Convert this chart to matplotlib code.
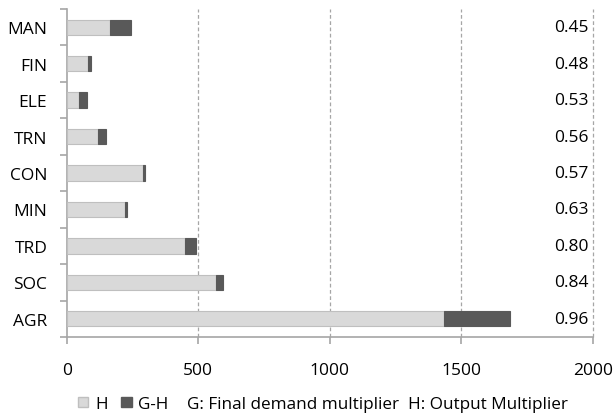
import matplotlib
matplotlib.use("Agg")
import matplotlib.pyplot as plt
from matplotlib.patches import Patch

plt.rcParams['font.family'] = ['Open Sans', 'DejaVu Sans']

categories = ["MAN", "FIN", "ELE", "TRN", "CON", "MIN", "TRD", "SOC", "AGR"]
h_values = [164, 80, 45, 119, 291, 221, 450, 567, 1433]
g_values = [243, 91, 76, 150, 298, 229, 491, 594, 1687]
ratios = ["0.45", "0.48", "0.53", "0.56", "0.57", "0.63", "0.80", "0.84", "0.96"]
xticks = [0, 500, 1000, 1500, 2000]

gh_values = [g - h for g, h in zip(g_values, h_values)]

W, H = 613, 414
fig = plt.figure(figsize=(W / 100, H / 100), dpi=100)
ax = fig.add_axes([66.7 / W, 1 - 338 / H, (592.7 - 66.7) / W, (338 - 10) / H])

n = len(categories)
ypos = list(range(n))[::-1]  # MAN at top

light = "#D9D9D9"
dark = "#595959"
grid_c = "#A6A6A6"
ax.barh(ypos, h_values, height=0.42, color=light, edgecolor="#BFBFBF", linewidth=0.8, zorder=3)
ax.barh(ypos, gh_values, left=h_values, height=0.42, color=dark, edgecolor=dark, linewidth=0.8, zorder=3)

ax.set_xlim(0, 2000)
ax.set_ylim(-0.5, n - 0.5)
ax.set_xticks(xticks)
ax.set_xticklabels([str(x) for x in xticks], fontsize=12.5)
ax.set_yticks(ypos)
ax.set_yticklabels(categories, fontsize=12.5)
ax.tick_params(axis='y', length=0, pad=14)
ax.set_yticks([i - 0.5 for i in range(n + 1)], minor=True)
ax.tick_params(axis='y', which='minor', length=5, color=grid_c, direction='out', width=1.2)
ax.tick_params(axis='x', length=5, color=grid_c, direction='out', pad=13, width=1.2)

for x in xticks[1:]:
    ax.axvline(x, color=grid_c, linestyle=(0, (3, 2)), linewidth=0.9, zorder=1, clip_on=False)

for s in ["top", "right"]:
    ax.spines[s].set_visible(False)
for s in ["left", "bottom"]:
    ax.spines[s].set_color(grid_c)
    ax.spines[s].set_linewidth(1.2)

for y, r in zip(ypos, ratios):
    ax.text(1985, y, r, ha="right", va="center", fontsize=12.5, zorder=4)

handles = [Patch(facecolor=light, edgecolor="#BFBFBF", label="H"),
           Patch(facecolor=dark, edgecolor=dark, label="G-H")]
fig.legend(handles=handles, loc="center left", bbox_to_anchor=(78 / W, 1 - 405 / H), ncol=2,
           frameon=False, fontsize=12.3, handlelength=0.6, handleheight=0.6, handletextpad=0.4,
           columnspacing=0.8, borderpad=0, borderaxespad=0)
fig.text(187 / W, 1 - 405 / H, "G: Final demand multiplier  H: Output Multiplier", fontsize=12.3,
         ha="left", va="center")

fig.savefig("out.png", dpi=100)
